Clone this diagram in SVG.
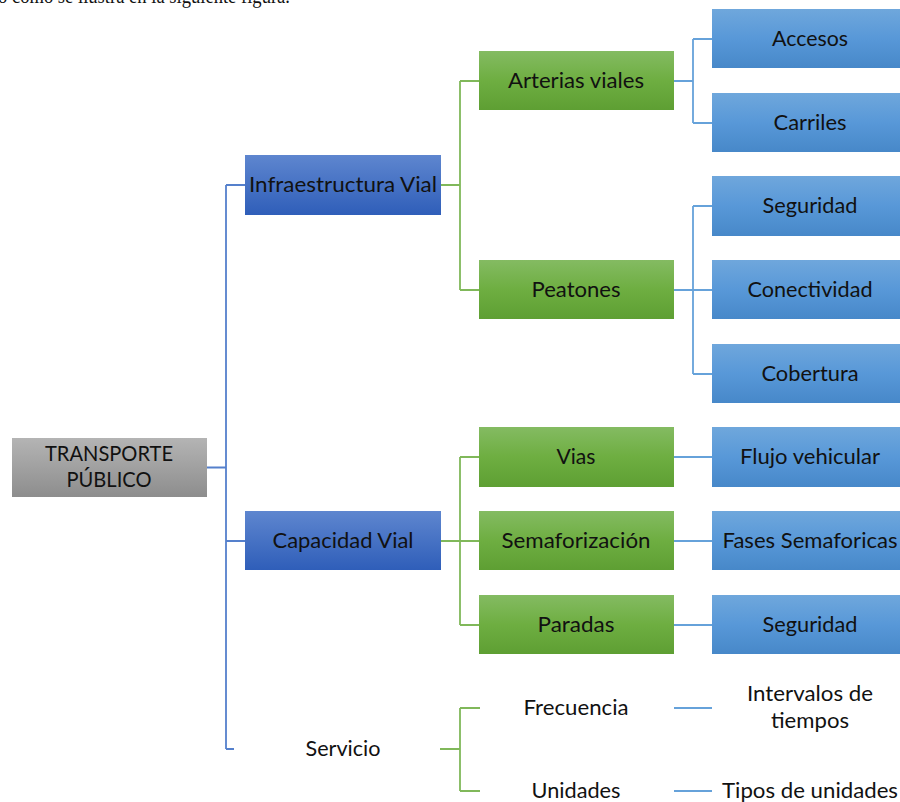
<svg xmlns="http://www.w3.org/2000/svg" width="900" height="802" viewBox="0 0 900 802">
<defs>
<linearGradient id="gGray" x1="0" y1="0" x2="0" y2="1"><stop offset="0" stop-color="#b4b4b4"/><stop offset="1" stop-color="#8d8d8d"/></linearGradient>
<linearGradient id="gDark" x1="0" y1="0" x2="0" y2="1"><stop offset="0" stop-color="#5e86cf"/><stop offset="1" stop-color="#2f5eb9"/></linearGradient>
<linearGradient id="gGreen" x1="0" y1="0" x2="0" y2="1"><stop offset="0" stop-color="#84bb62"/><stop offset="0.5" stop-color="#6eae41"/><stop offset="1" stop-color="#5e9f33"/></linearGradient>
<linearGradient id="gLight" x1="0" y1="0" x2="0" y2="1"><stop offset="0" stop-color="#6fa7dc"/><stop offset="0.5" stop-color="#5898d8"/><stop offset="1" stop-color="#4788c9"/></linearGradient>
</defs>
<style>
text{font-family:Lato,"Liberation Sans",sans-serif;font-size:22px;fill:#111;text-anchor:middle}
.top{font-family:"Liberation Serif",serif;font-size:22px;text-anchor:start}
.gray{fill:url(#gGray)}
.dark{fill:url(#gDark)}
.green{fill:url(#gGreen)}
.light{fill:url(#gLight)}
.cb{fill:none;stroke:#5580cc;stroke-width:1.8}
.cg{fill:none;stroke:#80b85a;stroke-width:1.8}
.cl{fill:none;stroke:#66a2da;stroke-width:1.8}
</style>
<text class="top" x="-2" y="3" textLength="292" lengthAdjust="spacingAndGlyphs">o como se ilustra en la siguiente figura.</text>
<g id="connectors">
<path class="cb" d="M207 467.5H226M226 185V749M226 185H245M226 541H245M226 749H234"/>
<path class="cg" d="M441 185H460M460 81V290M460 81H479M460 290H479"/>
<path class="cg" d="M441 541H479M460 457V625M460 457H479M460 625H479"/>
<path class="cg" d="M440 749H460M460 708V791M460 708H480M460 791H480"/>
<path class="cl" d="M674 81H693M693 39V123M693 39H712M693 123H712"/>
<path class="cl" d="M674 290H712M693 206V374M693 206H712M693 374H712"/>
<path class="cl" d="M674 457H712M674 541H712M674 625H712M674 708H712M674 791H712"/>
</g>
<g id="root"><rect class="gray" x="12" y="438" width="195" height="59"/><text x="109" y="461" textLength="128" lengthAdjust="spacingAndGlyphs">TRANSPORTE</text><text x="109" y="487" textLength="85" lengthAdjust="spacingAndGlyphs">PÚBLICO</text></g>
<g id="infraestructura"><rect class="dark" x="245" y="155" width="196" height="60"/><text x="343" y="192" textLength="188" lengthAdjust="spacingAndGlyphs">Infraestructura Vial</text></g>
<g id="capacidad"><rect class="dark" x="245" y="511" width="196" height="59"/><text x="343" y="548" textLength="141" lengthAdjust="spacingAndGlyphs">Capacidad Vial</text></g>
<g id="servicio"><text x="343" y="756" textLength="75" lengthAdjust="spacingAndGlyphs">Servicio</text></g>
<g id="arterias"><rect class="green" x="479" y="51" width="195" height="59"/><text x="576" y="88" textLength="136" lengthAdjust="spacingAndGlyphs">Arterias viales</text></g>
<g id="peatones"><rect class="green" x="479" y="260" width="195" height="59"/><text x="576" y="297" textLength="89" lengthAdjust="spacingAndGlyphs">Peatones</text></g>
<g id="vias"><rect class="green" x="479" y="427" width="195" height="60"/><text x="576" y="464" textLength="39" lengthAdjust="spacingAndGlyphs">Vias</text></g>
<g id="semaforizacion"><rect class="green" x="479" y="511" width="195" height="59"/><text x="576" y="548" textLength="149" lengthAdjust="spacingAndGlyphs">Semaforización</text></g>
<g id="paradas"><rect class="green" x="479" y="595" width="195" height="59"/><text x="576" y="632" textLength="77" lengthAdjust="spacingAndGlyphs">Paradas</text></g>
<g id="frecuencia"><text x="576" y="715" textLength="105" lengthAdjust="spacingAndGlyphs">Frecuencia</text></g>
<g id="unidades"><text x="576" y="798" textLength="89" lengthAdjust="spacingAndGlyphs">Unidades</text></g>
<g id="accesos"><rect class="light" x="712" y="9" width="188" height="59"/><text x="810" y="46" textLength="76" lengthAdjust="spacingAndGlyphs">Accesos</text></g>
<g id="carriles"><rect class="light" x="712" y="93" width="188" height="59"/><text x="810" y="130" textLength="73" lengthAdjust="spacingAndGlyphs">Carriles</text></g>
<g id="seguridad1"><rect class="light" x="712" y="176" width="188" height="60"/><text x="810" y="213" textLength="95" lengthAdjust="spacingAndGlyphs">Seguridad</text></g>
<g id="conectividad"><rect class="light" x="712" y="260" width="188" height="59"/><text x="810" y="297" textLength="125" lengthAdjust="spacingAndGlyphs">Conectividad</text></g>
<g id="cobertura"><rect class="light" x="712" y="344" width="188" height="59"/><text x="810" y="381" textLength="97" lengthAdjust="spacingAndGlyphs">Cobertura</text></g>
<g id="flujo"><rect class="light" x="712" y="427" width="188" height="60"/><text x="810" y="464" textLength="140" lengthAdjust="spacingAndGlyphs">Flujo vehicular</text></g>
<g id="fases"><rect class="light" x="712" y="511" width="188" height="59"/><text x="810" y="548" textLength="175" lengthAdjust="spacingAndGlyphs">Fases Semaforicas</text></g>
<g id="seguridad2"><rect class="light" x="712" y="595" width="188" height="59"/><text x="810" y="632" textLength="95" lengthAdjust="spacingAndGlyphs">Seguridad</text></g>
<g id="intervalos"><text x="810" y="701" textLength="126" lengthAdjust="spacingAndGlyphs">Intervalos de</text><text x="810" y="728" textLength="78" lengthAdjust="spacingAndGlyphs">tiempos</text></g>
<g id="tipos"><text x="810" y="798" textLength="176" lengthAdjust="spacingAndGlyphs">Tipos de unidades</text></g>
</svg>
